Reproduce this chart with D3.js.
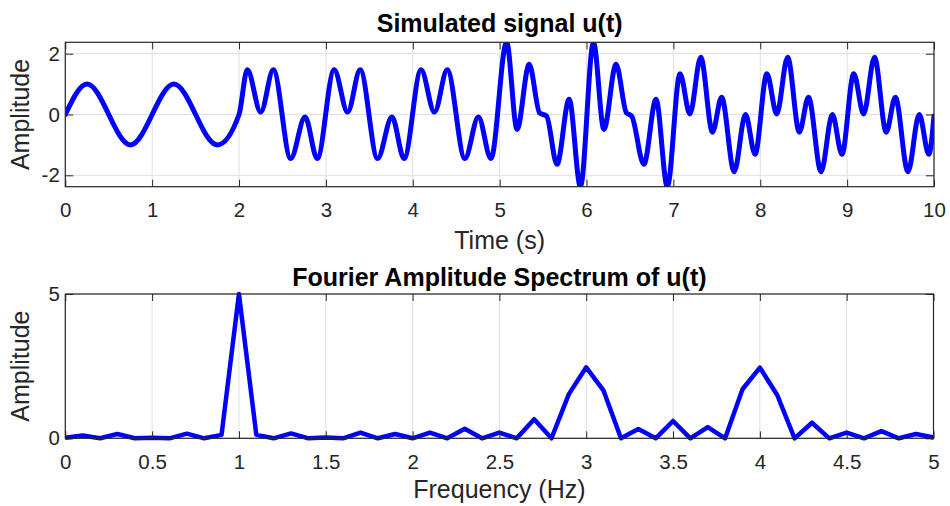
<!DOCTYPE html>
<html>
<head>
<meta charset="utf-8">
<script src="https://cdn.jsdelivr.net/npm/d3@7"></script>
<style>
  body { margin: 0; background: #fff; }
  svg { display: block; font-family: "Liberation Sans", Arial, Helvetica, sans-serif; }
</style>
</head>
<body>
<svg id="chart" width="950" height="506"></svg>
<script>
// signal keypoints (time in s, amplitude)
const sigTime = [
  0, 0.25, 0.75, 1.25, 1.75, 2.0,
  2.095, 2.25, 2.395, 2.595, 2.76, 2.90,
  3.095, 3.25, 3.395, 3.595, 3.76, 3.90,
  4.095, 4.25, 4.397, 4.60, 4.755, 4.90,
  5.08, 5.20, 5.34, 5.46, 5.54, 5.66, 5.80, 5.93,
  6.08, 6.20, 6.34, 6.46, 6.52, 6.66, 6.80, 6.93,
  7.076, 7.19, 7.315, 7.45, 7.555, 7.70, 7.83, 7.94,
  8.076, 8.19, 8.315, 8.45, 8.555, 8.70, 8.83, 8.94,
  9.076, 9.19, 9.315, 9.45, 9.555, 9.70, 9.83, 9.94, 10.0
];
const sigAmp = [
  0, 1, -1, 1, -1, 0,
  1.47, 0.08, 1.47, -1.45, -0.08, -1.45,
  1.47, 0.08, 1.47, -1.45, -0.08, -1.45,
  1.47, 0.08, 1.47, -1.45, -0.08, -1.45,
  2.375, -0.49, 1.65, 0.05, -0.05, -1.64, 0.5, -2.375,
  2.375, -0.49, 1.65, 0.05, -0.05, -1.64, 0.5, -2.375,
  1.34, 0.02, 1.88, -0.58, 0.57, -1.88, 0.0, -1.31,
  1.34, 0.02, 1.88, -0.58, 0.57, -1.88, 0.0, -1.31,
  1.34, 0.02, 1.88, -0.58, 0.57, -1.88, 0.0, -1.31, -0.05
];

// amplitude spectrum, 0.1 Hz bins
const freqHz = [
  0, 0.1, 0.2, 0.3, 0.4, 0.5, 0.6, 0.7, 0.8, 0.9,
  1.0, 1.1, 1.2, 1.3, 1.4, 1.5, 1.6, 1.7, 1.8, 1.9,
  2.0, 2.1, 2.2, 2.3, 2.4, 2.5, 2.6, 2.7, 2.8, 2.9,
  3.0, 3.1, 3.2, 3.3, 3.4, 3.5, 3.6, 3.7, 3.8, 3.9,
  4.0, 4.1, 4.2, 4.3, 4.4, 4.5, 4.6, 4.7, 4.8, 4.9, 5.0
];
const specAmp = [
  0.02, 0.1, 0, 0.15, 0, 0.02, 0, 0.16, 0, 0.12,
  5.0, 0.12, 0, 0.17, 0, 0.03, 0, 0.2, 0, 0.15,
  0, 0.2, 0, 0.33, 0, 0.2, 0, 0.66, 0, 1.53,
  2.46, 1.65, 0, 0.32, 0, 0.6, 0, 0.39, 0, 1.7,
  2.45, 1.5, 0, 0.54, 0, 0.2, 0, 0.25, 0, 0.15, 0.03
];

const topXTicks = [0, 1, 2, 3, 4, 5, 6, 7, 8, 9, 10];
const topYTicks = [-2, 0, 2];
const botXTicks = [0, 0.5, 1, 1.5, 2, 2.5, 3, 3.5, 4, 4.5, 5];
const botYTicks = [0, 5];

const AxisColor = "#262626";
const GridColor = "#e0e0e0";
const LineColor = "#0000ff";
const TickFont = 20.5, LabelFont = 25, TitleFont = 25;

const svg = d3.select("#chart");

function drawPanel(opt){
  const X = d3.scaleLinear().domain(opt.xDomain).range([opt.left, opt.right]);
  const Y = d3.scaleLinear().domain(opt.yDomain).range([opt.bottom, opt.top]);
  const g = svg.append("g");

  // grid
  g.append("g").selectAll("line").data(opt.xTicks).join("line")
    .attr("x1", d => X(d)).attr("x2", d => X(d))
    .attr("y1", opt.top).attr("y2", opt.bottom)
    .attr("stroke", GridColor).attr("stroke-width", 1);
  g.append("g").selectAll("line").data(opt.yTicks).join("line")
    .attr("x1", opt.left).attr("x2", opt.right)
    .attr("y1", d => Y(d)).attr("y2", d => Y(d))
    .attr("stroke", GridColor).attr("stroke-width", 1);

  // data line
  const clipId = "clip" + opt.id;
  svg.append("clipPath").attr("id", clipId).append("rect")
    .attr("x", opt.left).attr("y", opt.top - opt.clipPad)
    .attr("width", opt.right - opt.left).attr("height", opt.bottom - opt.top + 2 * opt.clipPad);
  const line = d3.line()
    .x((d, i) => X(opt.xs[i]))
    .y(d => Y(d))
    .curve(opt.curve);
  g.append("path")
    .datum(opt.ys)
    .attr("clip-path", `url(#${clipId})`)
    .attr("fill", "none")
    .attr("stroke", LineColor)
    .attr("stroke-width", opt.lineWidth)
    .attr("stroke-linejoin", "round")
    .attr("stroke-linecap", "round")
    .attr("d", line);

  // axes with inward ticks
  const xAxis = g.append("g")
    .attr("transform", `translate(0,${opt.bottom})`)
    .call(d3.axisBottom(X).tickValues(opt.xTicks).tickSizeInner(-7).tickSizeOuter(0).tickPadding(16).tickFormat(d3.format("")));
  const xTop = g.append("g")
    .attr("transform", `translate(0,${opt.top})`)
    .call(d3.axisTop(X).tickValues(opt.xTicks).tickSizeInner(-7).tickSizeOuter(0).tickFormat(""));
  const yAxis = g.append("g")
    .attr("transform", `translate(${opt.left},0)`)
    .call(d3.axisLeft(Y).tickValues(opt.yTicks).tickSizeInner(-8).tickSizeOuter(0).tickPadding(5.5).tickFormat(d3.format("")));
  const yRight = g.append("g")
    .attr("transform", `translate(${opt.right},0)`)
    .call(d3.axisRight(Y).tickValues(opt.yTicks).tickSizeInner(-8).tickSizeOuter(0).tickFormat(""));

  [xAxis, xTop, yAxis, yRight].forEach(a => {
    a.select(".domain").remove();
    a.selectAll(".tick line").attr("stroke", AxisColor).attr("stroke-width", 1);
    a.selectAll(".tick text")
      .attr("fill", AxisColor)
      .style("font-size", TickFont + "px")
      .style("font-family", "'Liberation Sans', Arial, sans-serif");
  });
  // plain hyphen for negatives, like MATLAB
  yAxis.selectAll(".tick text").text(d => String(d));

  // box
  g.append("rect")
    .attr("x", opt.left).attr("y", opt.top)
    .attr("width", opt.right - opt.left).attr("height", opt.bottom - opt.top)
    .attr("fill", "none").attr("stroke", AxisColor).attr("stroke-width", 1.2);

  // labels
  g.append("text")
    .attr("x", (opt.left + opt.right) / 2).attr("y", opt.bottom + opt.xLabelOffset)
    .attr("text-anchor", "middle").attr("fill", AxisColor)
    .style("font-size", LabelFont + "px")
    .text(opt.xLabel);
  g.append("text")
    .attr("transform", `translate(29,${(opt.top + opt.bottom) / 2}) rotate(-90)`)
    .attr("text-anchor", "middle").attr("fill", AxisColor)
    .style("font-size", LabelFont + "px")
    .text(opt.yLabel);
  g.append("text")
    .attr("x", (opt.left + opt.right) / 2).attr("y", opt.top - opt.titleOffset)
    .attr("text-anchor", "middle").attr("fill", "#000")
    .style("font-size", TitleFont + "px").style("font-weight", "bold")
    .text(opt.title);
}

drawPanel({
  id: "top",
  left: 65.3, right: 934, top: 42.3, bottom: 186.7,
  xDomain: [0, 10], yDomain: [-2.375, 2.375],
  xTicks: topXTicks, yTicks: topYTicks,
  xs: sigTime, ys: sigAmp,
  curve: d3.curveMonotoneX, lineWidth: 5, clipPad: 0,
  xLabel: "Time (s)", yLabel: "Amplitude", title: "Simulated signal u(t)",
  xLabelOffset: 62, titleOffset: 10
});

drawPanel({
  id: "bot",
  left: 65.3, right: 933.5, top: 294, bottom: 438.3,
  xDomain: [0, 5], yDomain: [0, 5],
  xTicks: botXTicks, yTicks: botYTicks,
  xs: freqHz, ys: specAmp,
  curve: d3.curveLinear, lineWidth: 4.5, clipPad: 3,
  xLabel: "Frequency (Hz)", yLabel: "Amplitude", title: "Fourier Amplitude Spectrum of u(t)",
  xLabelOffset: 60, titleOffset: 8
});
</script>
</body>
</html>
